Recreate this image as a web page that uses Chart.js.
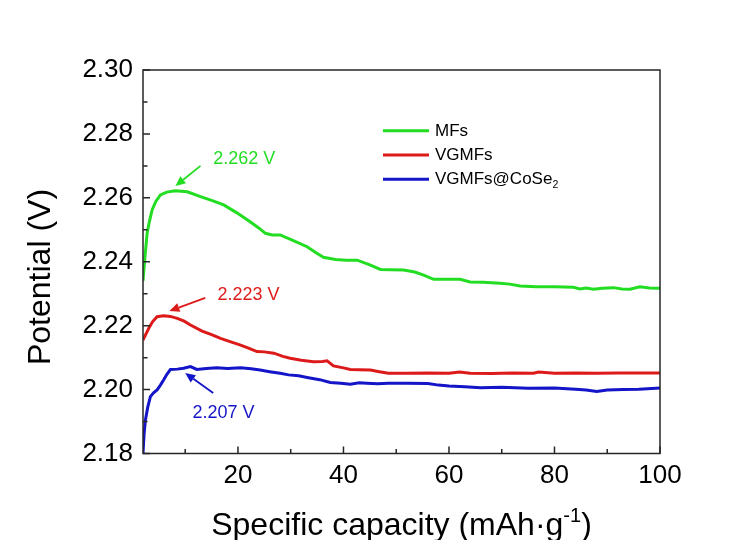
<!DOCTYPE html>
<html><head><meta charset="utf-8">
<script src="https://cdn.jsdelivr.net/npm/chart.js@4.4.1/dist/chart.umd.min.js"></script>
<style>html,body{margin:0;padding:0;background:#fff}#wrap{width:752px;height:540px;position:relative}</style>
</head><body><div id="wrap"><canvas id="c" width="752" height="540"></canvas></div>
<script>
const seriesNames = ['MFs', 'VGMFs', 'VGMFs@CoSe₂'];
const xTickValues = [20, 40, 60, 80, 100];
const xMinorValues = [10, 30, 50, 70, 90];
const yTickValues = [2.18, 2.20, 2.22, 2.24, 2.26, 2.28, 2.30];
const yMinorValues = [2.19, 2.21, 2.23, 2.25, 2.27, 2.29];
const peakLabels = ['2.262 V', '2.223 V', '2.207 V'];

const mfsCapacity = [2.0,2.4,2.78,3.2,3.73,4.4,5.3,6.5,8.1,10.4,12.9,15.0,17.3,19.8,22.3,24.0,25.2,26.5,28.0,30.5,33.1,34.8,36.2,38.5,40.5,42.6,45.0,47.0,49.0,51.4,53.5,55.2,57.1,59.5,62.1,64.0,66.5,69.7,71.5,73.5,76.6,80.0,83.6,84.8,86.0,87.4,89.0,91.2,92.8,94.3,96.2,98.0,100];
const mfsPotential = [2.234,2.242,2.2489,2.2525,2.2562,2.2588,2.2609,2.2618,2.2622,2.2619,2.2604,2.2592,2.2578,2.2553,2.2525,2.2505,2.2489,2.2484,2.2484,2.2466,2.2447,2.2428,2.2414,2.2407,2.2405,2.2405,2.2390,2.2376,2.2375,2.2374,2.2368,2.2358,2.2345,2.2345,2.2345,2.2337,2.2336,2.2333,2.2330,2.2324,2.2322,2.2322,2.2320,2.2315,2.2318,2.2314,2.2317,2.2319,2.2315,2.2314,2.2322,2.2318,2.2317];

const vgmfsCapacity = [2.0,2.5,3.1,3.8,4.67,5.9,7.2,8.5,9.8,11.0,13.2,15.0,16.7,18.5,20.5,22.0,23.6,25.0,26.8,28.5,29.9,32.0,34.3,36.0,36.9,38.1,40.0,41.3,43.0,45.1,46.8,48.5,52,56,60,62,64,68,72,76,77,80,84,88,92,96,100];
const vgmfsPotential = [2.2155,2.2172,2.2192,2.2212,2.2228,2.2231,2.2229,2.2223,2.2214,2.2202,2.2183,2.2172,2.2160,2.2150,2.2139,2.2130,2.2119,2.2118,2.2114,2.2104,2.2098,2.2092,2.2087,2.2088,2.2090,2.2074,2.2068,2.2063,2.2062,2.2061,2.2056,2.2051,2.2051,2.2052,2.2051,2.2055,2.2051,2.2050,2.2052,2.2051,2.2055,2.2051,2.2052,2.2051,2.2052,2.2052,2.2052];

const coseCapacity = [2.0,2.2,2.46,2.9,3.4,4.0,4.67,5.3,5.9,6.5,7.2,8.5,9.7,11.0,12.2,14.0,16.0,18.0,20.5,22.5,24.2,26.0,28.0,29.6,31.5,33.1,35.5,37.5,39.5,41.3,43.0,44.4,46.5,48.5,52,56,58,60,63,66,70,75,80,84,86,88,90,93,96,100];
const cosePotential = [2.18,2.186,2.1905,2.1945,2.1978,2.1990,2.1999,2.2014,2.2030,2.2047,2.2063,2.2064,2.2067,2.2072,2.2063,2.2066,2.2068,2.2066,2.2068,2.2065,2.2061,2.2056,2.2051,2.2046,2.2043,2.2038,2.2031,2.2022,2.2020,2.2017,2.2021,2.2020,2.2018,2.2020,2.2020,2.2019,2.2014,2.2011,2.2009,2.2006,2.2007,2.2004,2.2005,2.2001,2.1999,2.1994,2.1999,2.2000,2.2001,2.2005];

// styling / layout
const colors = ['#22dd22', '#dd1a1a', '#1414c8'];
const FONT = "'Liberation Sans', Arial, sans-serif";
// annotation anchors in data coordinates: text (left, middle), arrow tail, arrow head
const annot = [
  {tx: 15.3, ty: 2.2721, ax1: 12.9, ay1: 2.2700, ax2: 8.14, ay2: 2.2637},
  {tx: 16.1, ty: 2.2296, ax1: 13.8, ay1: 2.2287, ax2: 7.0, ay2: 2.2246},
  {tx: 11.36, ty: 2.1927, ax1: 15.3, ay1: 2.1989, ax2: 10.0, ay2: 2.2052}
];

function pts(xs, ys) { return xs.map((v, i) => ({x: v, y: ys[i]})); }
const capacities = [mfsCapacity, vgmfsCapacity, coseCapacity];
const potentials = [mfsPotential, vgmfsPotential, cosePotential];

function drawRich(ctx, text, x, y, size) {
  const subs = '₀₁₂₃₄₅₆₇₈₉';
  let cx = x;
  for (const ch of text) {
    const k = subs.indexOf(ch);
    if (k >= 0) {
      ctx.font = (size * 0.62) + 'px ' + FONT;
      ctx.fillText(String(k), cx, y + size * 0.32);
      cx += ctx.measureText(String(k)).width;
    } else {
      ctx.font = size + 'px ' + FONT;
      ctx.fillText(ch, cx, y);
      cx += ctx.measureText(ch).width;
    }
  }
}

function arrow(ctx, x1, y1, x2, y2, color) {
  const ang = Math.atan2(y2 - y1, x2 - x1);
  const hl = 10, hw = 4.5;
  const bx = x2 - hl * Math.cos(ang), by = y2 - hl * Math.sin(ang);
  ctx.strokeStyle = color; ctx.fillStyle = color; ctx.lineWidth = 1.8;
  ctx.beginPath(); ctx.moveTo(x1, y1); ctx.lineTo(bx, by); ctx.stroke();
  ctx.beginPath();
  ctx.moveTo(x2, y2);
  ctx.lineTo(bx + hw * Math.sin(ang), by - hw * Math.cos(ang));
  ctx.lineTo(bx - hw * Math.sin(ang), by + hw * Math.cos(ang));
  ctx.closePath(); ctx.fill();
}

const framePlugin = {
  id: 'frame',
  afterDraw(chart) {
    const {ctx, chartArea: a, scales: {x, y}} = chart;
    ctx.save();
    ctx.strokeStyle = '#262626'; ctx.lineWidth = 1.5;
    ctx.strokeRect(a.left, a.top, a.right - a.left, a.bottom - a.top);
    ctx.beginPath();
    xTickValues.forEach(v => { const p = x.getPixelForValue(v); ctx.moveTo(p, a.bottom); ctx.lineTo(p, a.bottom - 7); });
    xMinorValues.forEach(v => { const p = x.getPixelForValue(v); ctx.moveTo(p, a.bottom); ctx.lineTo(p, a.bottom - 4.5); });
    yTickValues.forEach(v => { const p = y.getPixelForValue(v); ctx.moveTo(a.left, p); ctx.lineTo(a.left + 7, p); });
    yMinorValues.forEach(v => { const p = y.getPixelForValue(v); ctx.moveTo(a.left, p); ctx.lineTo(a.left + 4.5, p); });
    ctx.stroke();

    // legend
    chart.data.datasets.forEach((ds, i) => {
      const ly = 130.7 + i * 24.3;
      ctx.strokeStyle = ds.borderColor; ctx.lineWidth = 3;
      ctx.beginPath(); ctx.moveTo(383, ly); ctx.lineTo(429, ly); ctx.stroke();
      ctx.fillStyle = '#000'; ctx.textBaseline = 'middle'; ctx.textAlign = 'left';
      drawRich(ctx, ds.label, 435, ly + 0.5, 17);
    });

    // annotations
    annot.forEach((an, i) => {
      ctx.fillStyle = colors[i]; ctx.textBaseline = 'middle'; ctx.textAlign = 'left';
      ctx.font = '18px ' + FONT;
      ctx.fillText(peakLabels[i], x.getPixelForValue(an.tx), y.getPixelForValue(an.ty));
      arrow(ctx, x.getPixelForValue(an.ax1), y.getPixelForValue(an.ay1), x.getPixelForValue(an.ax2), y.getPixelForValue(an.ay2), colors[i]);
    });

    // axis titles
    ctx.fillStyle = '#000';
    ctx.save();
    ctx.translate(50, 277); ctx.rotate(-Math.PI / 2);
    ctx.font = '32px ' + FONT; ctx.textAlign = 'center'; ctx.textBaseline = 'alphabetic';
    ctx.fillText('Potential (V)', 0, 0);
    ctx.restore();

    const parts = [
      {t: 'Specific capacity (mAh', s: 32, dy: 0},
      {t: '·', s: 32, dy: 0},
      {t: 'g', s: 32, dy: 0},
      {t: '-1', s: 20, dy: -13},
      {t: ')', s: 32, dy: 0}
    ];
    ctx.textAlign = 'left'; ctx.textBaseline = 'alphabetic';
    let total = 0;
    parts.forEach(p => { ctx.font = p.s + 'px ' + FONT; p.w = ctx.measureText(p.t).width; total += p.w; });
    let cx = (a.left + a.right) / 2 - total / 2;
    parts.forEach(p => { ctx.font = p.s + 'px ' + FONT; ctx.fillText(p.t, cx, 535 + p.dy); cx += p.w; });
    ctx.restore();
  }
};

new Chart(document.getElementById('c'), {
  type: 'line',
  data: {
    datasets: seriesNames.map((n, i) => ({
      label: n,
      data: pts(capacities[i], potentials[i]),
      borderColor: colors[i],
      backgroundColor: colors[i],
      borderWidth: 3,
      pointRadius: 0,
      tension: 0,
      fill: false
    }))
  },
  options: {
    responsive: false,
    animation: false,
    devicePixelRatio: 1,
    layout: {padding: {left: 0, top: 70, right: 92, bottom: 0}},
    plugins: {legend: {display: false}, tooltip: {enabled: false}},
    scales: {
      x: {
        type: 'linear', min: 2, max: 100,
        grid: {display: false, drawTicks: false},
        border: {display: false},
        ticks: {color: '#000', font: {family: FONT, size: 26}, padding: 7, maxRotation: 0},
        afterBuildTicks: s => { s.ticks = xTickValues.map(v => ({value: v})); },
        afterFit: s => { s.height = 86.5; }
      },
      y: {
        type: 'linear', min: 2.18, max: 2.30,
        grid: {display: false, drawTicks: false},
        border: {display: false},
        ticks: {color: '#000', font: {family: FONT, size: 26}, padding: 10, callback: v => v.toFixed(2)},
        afterBuildTicks: s => { s.ticks = yTickValues.map(v => ({value: v})); },
        afterFit: s => { s.width = 143; }
      }
    }
  },
  plugins: [framePlugin]
});
</script>
</body></html>
